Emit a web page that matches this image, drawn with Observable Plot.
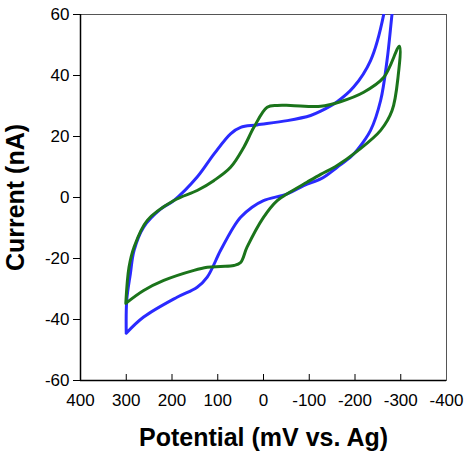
<!DOCTYPE html>
<html><head><meta charset="utf-8">
<script src="https://cdn.jsdelivr.net/npm/d3@7"></script>
<script src="https://cdn.jsdelivr.net/npm/@observablehq/plot@0.6"></script>
<style>body{margin:0;background:#fff}</style>
</head><body><div id="chart"></div>
<script>
const xDomain = [400, -400];
const yDomain = [-60, 60];
const xTicks = [400, 300, 200, 100, 0, -100, -200, -300, -400];
const yTicks = [60, 40, 20, 0, -20, -40, -60];
const xLabel = "Potential (mV vs. Ag)";
const yLabel = "Current (nA)";

// Blue voltammogram (potential mV, current nA)
const blueE = [300, 262, 189, 145, 123, 94, 65, 50, 25, 0, -52, -88, -125, -139, -161, -190, -205, -234, -256, -270, -281, -290, -280, -268, -263, -234, -197, -161, -125, -103, -52, 14, 50, 72, 108, 145, 196, 225, 262, 283, 291, 299, 300];
const blueI = [-44.5, -39.2, -32.7, -29.4, -26.1, -17.4, -9.6, -6.5, -3.2, -1, 1.2, 3.9, 6.1, 7.4, 9.9, 13.2, 15.6, 22, 31.8, 44.9, 60.2, 72, 76, 66, 60.2, 44.9, 36.2, 31.4, 28.3, 26.9, 25.2, 23.8, 23, 20.9, 14.3, 6.7, -1, -3.8, -9.7, -17.4, -25, -33.8, -44.5];

// Green voltammogram
const greenE = [301, 262, 218, 152, 123, 94, 65, 50, 36, 0, -30, -52, -95, -125, -161, -205, -256, -281, -294, -297, -263, -219, -168, -125, -59, -30, -8, 21, 43, 72, 108, 145, 196, 254, 283, 294, 301];
const greenI = [-34.7, -30.5, -27.2, -23.9, -22.9, -22.6, -22.3, -21.3, -16.3, -6.5, -1, 1.2, 5, 7.6, 10.5, 15.2, 22, 28.5, 39.4, 49.6, 39.4, 34.5, 31.4, 29.9, 30.2, 30.2, 29.6, 23, 16.5, 9.9, 5.6, 2.3, -1, -7.5, -16.3, -22.9, -34.7];

const blue = blueE.map((e, i) => ({E: e, I: blueI[i]}));
const green = greenE.map((e, i) => ({E: e, I: greenI[i]}));

const font = "'Liberation Sans', Arial, Helvetica, sans-serif";

const chart = Plot.plot({
  width: 466,
  height: 455,
  marginLeft: 80,
  marginRight: 20,
  marginTop: 14,
  marginBottom: 75,
  style: {fontFamily: font, background: "#fff", color: "#000"},
  x: {domain: xDomain},
  y: {domain: yDomain},
  marks: [
    Plot.frame({stroke: "#555", strokeWidth: 1}),
    Plot.line(blue, {x: "E", y: "I", stroke: "#2a2aff", strokeWidth: 3, curve: "catmull-rom", clip: true}),
    Plot.line(green, {x: "E", y: "I", stroke: "#1b741b", strokeWidth: 3, curve: "catmull-rom", clip: true}),
    Plot.ruleX([xDomain[0]], {stroke: "#000", strokeWidth: 1.5}),
    Plot.ruleY([yDomain[0]], {stroke: "#000", strokeWidth: 1.5}),
    Plot.axisY(yTicks, {tickSize: 7, tickPadding: 4, fontSize: 17, label: null, stroke: "#000", tickFormat: d => String(d)}),
    Plot.axisX(xTicks.slice(1, -1), {tickSize: -6, text: null, label: null, stroke: "#000"}),
    Plot.axisX(xTicks, {tickSize: 0, tickPadding: 13, fontSize: 17, label: null, tickFormat: d => String(d)}),
    Plot.text([xLabel], {frameAnchor: "bottom", dy: 65, lineAnchor: "bottom", textAnchor: "middle", fontSize: 25, fontWeight: "bold", fill: "#000"}),
    Plot.text([yLabel], {frameAnchor: "left", dx: -65, rotate: -90, textAnchor: "middle", lineAnchor: "middle", fontSize: 25, fontWeight: "bold", fill: "#000"})
  ]
});
document.getElementById("chart").appendChild(chart);
</script>
</body></html>
